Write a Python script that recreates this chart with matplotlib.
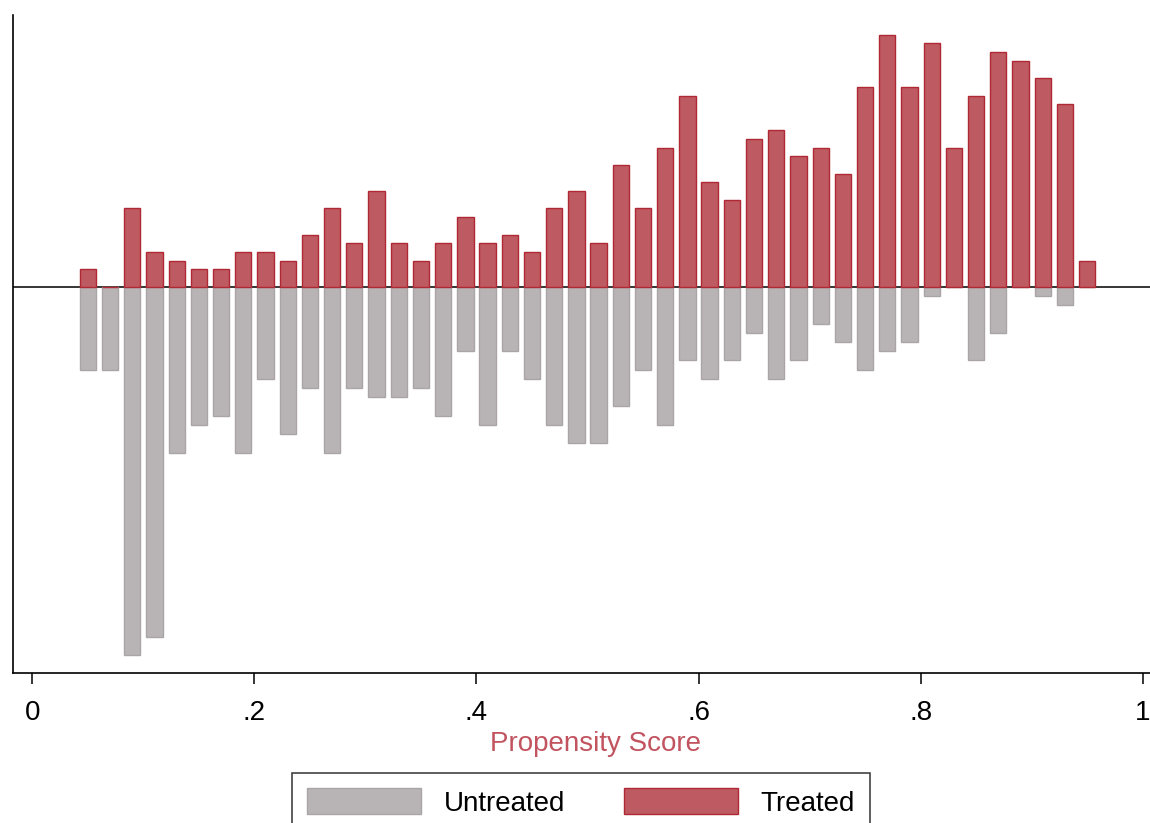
import numpy as np
import matplotlib
matplotlib.use("Agg")
import matplotlib.pyplot as plt

# histogram bins of propensity score (width .02, centres .05 ... .95)
bin_width = 0.02
bin_centers = np.round(0.05 + bin_width * np.arange(46), 3)

# counts per bin
treated = [2, 0, 9, 4, 3, 2, 2, 4, 4, 3,
           6, 9, 5, 11, 5, 3, 5, 8, 5, 6,
           4, 9, 11, 5, 14, 9, 16, 22, 12, 10,
           17, 18, 15, 16, 13, 23, 29, 23, 28, 16,
           22, 27, 26, 24, 21, 3]
untreated = [9, 9, 40, 38, 18, 15, 14, 18, 10, 16,
             11, 18, 11, 12, 12, 11, 14, 7, 15, 7,
             10, 15, 17, 17, 13, 9, 15, 8, 10, 8,
             5, 10, 8, 4, 6, 9, 7, 6, 1, 0,
             8, 5, 0, 1, 2, 0]

xticks = [0, 0.2, 0.4, 0.6, 0.8, 1]
xticklabels = ["0", ".2", ".4", ".6", ".8", "1"]

RED_FILL, RED_EDGE = "#be5b62", "#b02833"
GRAY_FILL, GRAY_EDGE = "#b8b4b5", "#aaa4a6"

plt.rcParams["font.family"] = ["Liberation Sans", "DejaVu Sans"]

# densities: treated up, untreated mirrored down
t = np.array(treated, float)
u = np.array(untreated, float)
dens_t = t / (t.sum() * bin_width)
dens_u = u / (u.sum() * bin_width)

W, H = 1150, 823
fig = plt.figure(figsize=(W / 100, H / 100), dpi=100)
ax = fig.add_axes([13 / W, 1 - 673.3 / H, (W - 13) / W, (673.3 - 15) / H])

ax.axhline(0, color="black", lw=1.1, zorder=1)
ax.bar(bin_centers, -dens_u, width=0.0147, color=GRAY_FILL, edgecolor=GRAY_EDGE,
       linewidth=1.0, zorder=2, label="Untreated")
ax.bar(bin_centers, dens_t, width=0.0147, color=RED_FILL, edgecolor=RED_EDGE,
       linewidth=1.0, zorder=3, label="Treated")

ax.set_xlim(-0.0174, 1.0066)
ax.set_ylim(-4.205, 2.955)

for s in ("top", "right"):
    ax.spines[s].set_visible(False)
for s in ("left", "bottom"):
    ax.spines[s].set_linewidth(1.2)
ax.set_yticks([])
ax.set_xticks(xticks)
ax.set_xticklabels(xticklabels, fontsize=20)
ax.tick_params(axis="x", direction="out", length=8, width=1.1, pad=11)
ax.set_xlabel("Propensity Score", fontsize=20, color="#c25460")
ax.xaxis.set_label_coords(0.512, -0.088)

handles, labels = ax.get_legend_handles_labels()
leg = fig.legend(handles, labels, loc="upper left", bbox_to_anchor=(292 / W, 1 - 773 / H),
                 ncol=2, fontsize=20, frameon=True, fancybox=False, shadow=False,
                 borderpad=0.55, borderaxespad=0, handlelength=4.1, handleheight=1.05,
                 handletextpad=0.8, columnspacing=2.15)
leg.get_frame().set_edgecolor("black")
leg.get_frame().set_linewidth(1.1)

fig.savefig("out.png", dpi=100)
